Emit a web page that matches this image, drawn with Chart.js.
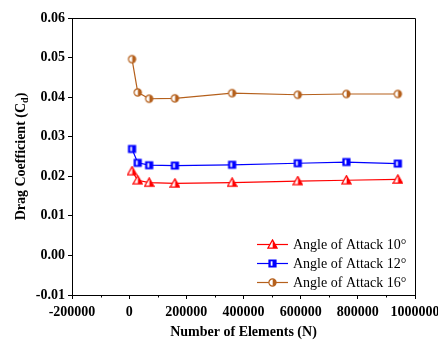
<!DOCTYPE html>
<html>
<head>
<meta charset="utf-8">
<script src="https://cdn.jsdelivr.net/npm/chart.js@4"></script>
<style>
  html, body { margin: 0; padding: 0; background: #fff; }
  #wrap { width: 438px; height: 341px; position: relative; }
</style>
</head>
<body>
<div id="wrap"><canvas id="c" width="438" height="341"></canvas></div>
<script>
// Mesh sizes and drag coefficients for each angle of attack
const elements = [10000, 30000, 70000, 160000, 360000, 590000, 760000, 940000];
const cdAoA10 = [0.0213, 0.0190, 0.0184, 0.0182, 0.0184, 0.0188, 0.0190, 0.0192];
const cdAoA12 = [0.0269, 0.0234, 0.0228, 0.0227, 0.0229, 0.0233, 0.0236, 0.0232];
const cdAoA16 = [0.0496, 0.0412, 0.0396, 0.0397, 0.0410, 0.0406, 0.0408, 0.0408];
const seriesLabels = ['Angle of Attack 10°', 'Angle of Attack 12°', 'Angle of Attack 16°'];
const xTickValues = [-200000, 0, 200000, 400000, 600000, 800000, 1000000];
const yTickValues = [-0.01, 0.00, 0.01, 0.02, 0.03, 0.04, 0.05, 0.06];

const RED = '#ff0000', BLUE = '#0000ff', BROWN = '#b5601c';
const SERIF = '"Liberation Serif", "Times New Roman", serif';

// Half-filled markers: outline, right half filled, left half white
function makeMarker(shape, color) {
  const s = 11;
  const cv = document.createElement('canvas');
  cv.width = s; cv.height = s;
  const g = cv.getContext('2d');
  const c = s / 2;
  function path() {
    g.beginPath();
    if (shape === 'circle') {
      g.arc(c, c, 3.6, 0, Math.PI * 2);
    } else if (shape === 'rect') {
      g.rect(c - 3.5, c - 3.5, 7, 7);
    } else {
      g.moveTo(c, c - 4.6);
      g.lineTo(c + 4.6, c + 3.6);
      g.lineTo(c - 4.6, c + 3.6);
      g.closePath();
    }
  }
  path();
  g.fillStyle = '#fff';
  g.fill();
  g.save();
  path();
  g.clip();
  g.fillStyle = color;
  g.fillRect(c + 0.2, 0, s, s);
  if (shape === 'rect') {
    g.fillRect(0, 0, s, s);
    g.fillStyle = '#fff';
    g.fillRect(c - 1.8, c - 2.2, 1.8, 4.4);
  }
  g.restore();
  path();
  g.strokeStyle = color;
  g.lineWidth = 1.2;
  g.stroke();
  return cv;
}

const markers = [makeMarker('triangle', RED), makeMarker('rect', BLUE), makeMarker('circle', BROWN)];

function toPoints(ys) { return elements.map((x, i) => ({ x: x, y: ys[i] })); }

const seriesColors = [RED, BLUE, BROWN];
const datasets = [cdAoA10, cdAoA12, cdAoA16].map((ys, i) => ({
  label: seriesLabels[i],
  data: toPoints(ys),
  showLine: true,
  borderColor: seriesColors[i],
  backgroundColor: seriesColors[i],
  borderWidth: 1.2,
  pointStyle: markers[i],
  pointRadius: 4,
  pointHoverRadius: 4
}));

// Frame, minor ticks, y title with subscript and the in-plot legend
const decorations = {
  id: 'decorations',
  afterDraw(chart) {
    const ctx = chart.ctx;
    const a = chart.chartArea;
    const xs = chart.scales.x;
    ctx.save();
    ctx.strokeStyle = '#000';
    ctx.lineWidth = 1;
    // top and right frame lines
    ctx.beginPath();
    ctx.moveTo(a.left, a.top + 0.5);
    ctx.lineTo(a.right + 0.5, a.top + 0.5);
    ctx.lineTo(a.right + 0.5, a.bottom);
    ctx.stroke();
    // minor x ticks
    ctx.beginPath();
    for (let v = -100000; v < 1000000; v += 200000) {
      const px = Math.round(xs.getPixelForValue(v)) + 0.5;
      ctx.moveTo(px, a.bottom);
      ctx.lineTo(px, a.bottom + 2.5);
    }
    ctx.stroke();

    // y axis title: Drag Coefficient (C_d)
    ctx.fillStyle = '#000';
    ctx.translate(21, (a.top + a.bottom) / 2);
    ctx.rotate(-Math.PI / 2);
    ctx.textBaseline = 'middle';
    const big = 'bold 14px ' + SERIF, small = 'bold 10px ' + SERIF;
    const p1 = 'Drag Coefficient (C', p2 = 'd', p3 = ')';
    ctx.font = big; const w1 = ctx.measureText(p1).width, w3 = ctx.measureText(p3).width;
    ctx.font = small; const w2 = ctx.measureText(p2).width;
    let x0 = -(w1 + w2 + w3) / 2;
    ctx.textAlign = 'left';
    ctx.font = big; ctx.fillText(p1, x0, 0);
    ctx.font = small; ctx.fillText(p2, x0 + w1, 4);
    ctx.font = big; ctx.fillText(p3, x0 + w1 + w2, 0);
    ctx.restore();

    // legend
    ctx.save();
    const lx0 = 257, lx1 = 288, tx = 293;
    const rows = [244, 263, 282];
    chart.data.datasets.forEach((ds, i) => {
      const y = rows[i];
      ctx.strokeStyle = ds.borderColor;
      ctx.lineWidth = 1.2;
      ctx.beginPath();
      ctx.moveTo(lx0, y + 0.5);
      ctx.lineTo(lx1, y + 0.5);
      ctx.stroke();
      const m = ds.pointStyle;
      ctx.drawImage(m, (lx0 + lx1) / 2 - m.width / 2, y + 0.5 - m.height / 2);
      ctx.fillStyle = '#000';
      ctx.font = '14px ' + SERIF;
      ctx.textAlign = 'left';
      ctx.textBaseline = 'middle';
      ctx.fillText(ds.label, tx, y + 1);
    });
    ctx.restore();
  }
};

new Chart(document.getElementById('c'), {
  type: 'scatter',
  data: { datasets: datasets },
  options: {
    responsive: false,
    animation: false,
    events: [],
    layout: { padding: { top: 18, right: 23, left: 0, bottom: 0 } },
    plugins: { legend: { display: false }, tooltip: { enabled: false } },
    scales: {
      x: {
        type: 'linear',
        min: -200000, max: 1000000,
        afterBuildTicks(scale) { scale.ticks = xTickValues.map(v => ({ value: v })); },
        afterFit(scale) { scale.height = 46; scale.paddingLeft = 0; scale.paddingRight = 0; },
        ticks: {
          color: '#000',
          font: { family: SERIF, size: 14, weight: 'bold' },
          padding: 5,
          maxRotation: 0,
          autoSkip: false,
          callback: v => String(v)
        },
        grid: { display: true, drawOnChartArea: false, drawTicks: true, tickLength: 4, color: '#000' },
        border: { display: true, color: '#000', width: 1 },
        title: {
          display: true,
          text: 'Number of Elements (N)',
          color: '#000',
          font: { family: SERIF, size: 14, weight: 'bold' },
          padding: { top: 5, bottom: 0 }
        }
      },
      y: {
        type: 'linear',
        min: -0.01, max: 0.06,
        afterBuildTicks(scale) { scale.ticks = yTickValues.map(v => ({ value: v })); },
        afterFit(scale) { scale.width = 72; scale.paddingTop = 0; scale.paddingBottom = 0; },
        ticks: {
          color: '#000',
          font: { family: SERIF, size: 14, weight: 'bold' },
          padding: 3,
          autoSkip: false,
          callback: v => (Math.abs(v) < 1e-9 ? 0 : v).toFixed(2)
        },
        grid: { display: true, drawOnChartArea: false, drawTicks: true, tickLength: 4, color: '#000' },
        border: { display: true, color: '#000', width: 1 }
      }
    }
  },
  plugins: [decorations]
});
</script>
</body>
</html>
